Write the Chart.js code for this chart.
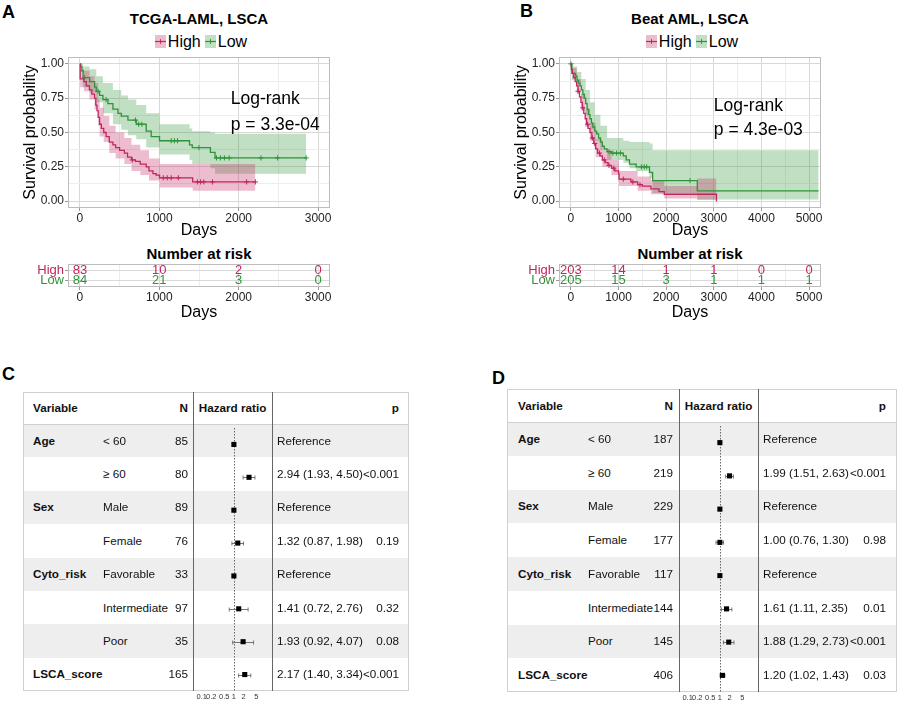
<!DOCTYPE html>
<html>
<head>
<meta charset="utf-8">
<title>LSCA survival and Cox regression</title>
<script src="https://cdn.jsdelivr.net/npm/chart.js@4.4.1/dist/chart.umd.min.js"></script>
<style>
html,body{margin:0;padding:0;background:#fff;}
#page{position:relative;width:899px;height:701px;overflow:hidden;font-family:"Liberation Sans",Arial,Helvetica,sans-serif;color:#000;}
.t{position:absolute;white-space:nowrap;}
canvas{position:absolute;}
</style>
</head>
<body>
<div id="page">
  <canvas id="kmA" width="340" height="190" style="left:0;top:50px;z-index:1"></canvas>
  <canvas id="riskA" width="340" height="60" style="left:0;top:262px;z-index:1"></canvas>
  <canvas id="kmB" width="340" height="190" style="left:491px;top:50px;z-index:1"></canvas>
  <canvas id="riskB" width="340" height="60" style="left:491px;top:262px;z-index:1"></canvas>
</div>
<script>
// ---------------- DATA ----------------
const groupNames = ['High', 'Low'];

// Panel A: TCGA-LAML (days, survival probability)
const tcgaHighTime = [0,3,50,80,120,150,185,200,215,230,248,270,300,330,370,416,450,500,560,600,650,700,760,835,870,920,960,1003,1420,2210];
const tcgaHighSurv = [1.0,0.89,0.87,0.84,0.81,0.78,0.75,0.70,0.66,0.61,0.56,0.53,0.50,0.47,0.43,0.41,0.39,0.37,0.35,0.32,0.30,0.29,0.27,0.25,0.22,0.20,0.19,0.17,0.14,0.14];
const tcgaHighCensTime = [660,1050,1100,1150,1240,1480,1520,1560,1670,2100,2210];
const tcgaHighCensSurv = [0.30,0.17,0.17,0.17,0.17,0.14,0.14,0.14,0.14,0.14,0.14];
const tcgaHighCiTime = [0,3,50,120,185,230,248,300,370,450,560,650,760,870,1003,1420,2210];
const tcgaHighCiUpper = [1.0,0.96,0.95,0.91,0.86,0.74,0.68,0.62,0.55,0.50,0.46,0.41,0.37,0.31,0.27,0.27,0.27];
const tcgaHighCiLower = [1.0,0.83,0.80,0.74,0.67,0.55,0.47,0.43,0.35,0.31,0.27,0.22,0.19,0.15,0.10,0.075,0.075];

const tcgaLowTime = [0,10,25,40,122,185,206,248,290,353,416,479,521,605,710,835,898,1003,1381,1415,1644,1702,2850];
const tcgaLowSurv = [1.0,0.98,0.95,0.90,0.87,0.83,0.80,0.77,0.74,0.71,0.67,0.64,0.62,0.59,0.56,0.51,0.47,0.44,0.41,0.39,0.355,0.315,0.315];
const tcgaLowCensTime = [60,230,330,700,740,780,1150,1190,1230,1500,1720,1770,1820,1880,2280,2490,2850];
const tcgaLowCensSurv = [0.90,0.80,0.74,0.59,0.56,0.56,0.44,0.44,0.44,0.39,0.315,0.315,0.315,0.315,0.315,0.315,0.315];
const tcgaLowCiTime = [0,10,40,122,206,290,416,521,605,710,835,1003,1381,1415,1644,1702,2850];
const tcgaLowCiUpper = [1.0,1.0,0.98,0.96,0.91,0.86,0.81,0.77,0.74,0.70,0.64,0.56,0.53,0.51,0.50,0.49,0.49];
const tcgaLowCiLower = [1.0,0.94,0.83,0.79,0.72,0.64,0.56,0.52,0.48,0.45,0.39,0.34,0.30,0.27,0.24,0.20,0.20];

const tcgaRiskDays = [0,1000,2000,3000];
const tcgaRiskHigh = [83,10,2,0];
const tcgaRiskLow = [84,21,3,0];
const tcgaGridDays = [0,500,1000,1500,2000,2500,3000];

// Panel B: Beat AML
const beatHighTime = [0,10,30,60,90,120,150,180,210,240,270,300,330,360,400,440,480,520,560,610,660,720,780,850,920,1000,1010,1260,1400,1500,1680,1850,1960,3056];
const beatHighSurv = [1.0,0.96,0.93,0.90,0.87,0.84,0.80,0.76,0.72,0.68,0.64,0.60,0.56,0.53,0.50,0.46,0.42,0.38,0.35,0.33,0.30,0.28,0.26,0.24,0.22,0.20,0.16,0.14,0.12,0.11,0.09,0.07,0.05,0.0];
const beatHighCensTime = [150,250,350,450,500,600,700,800,900,1100,1300,1450];
const beatHighCensSurv = [0.80,0.68,0.56,0.46,0.42,0.35,0.30,0.26,0.24,0.16,0.14,0.12];
const beatHighCiTime = [0,30,120,210,300,400,520,660,850,1000,1010,1400,1680,1960,2650,3056];
const beatHighCiUpper = [1.0,0.97,0.89,0.78,0.67,0.57,0.45,0.37,0.30,0.27,0.22,0.18,0.15,0.11,0.165,0.165];
const beatHighCiLower = [1.0,0.89,0.79,0.66,0.54,0.44,0.32,0.25,0.19,0.15,0.11,0.075,0.05,0.02,0.01,0.01];

const beatLowTime = [0,20,100,130,160,190,220,250,280,310,340,370,400,430,460,500,540,580,620,660,700,760,850,1100,1160,1230,1370,1650,1715,2653,5200];
const beatLowSurv = [1.0,0.93,0.91,0.88,0.86,0.84,0.81,0.78,0.75,0.71,0.67,0.63,0.60,0.57,0.54,0.51,0.49,0.46,0.43,0.40,0.38,0.36,0.35,0.33,0.30,0.27,0.25,0.21,0.15,0.075,0.075];
const beatLowCensTime = [0,800,880,960,1040,1480,1540,1590,2500];
const beatLowCensSurv = [1.0,0.36,0.35,0.35,0.35,0.25,0.25,0.25,0.15];
const beatLowCiTime = [0,20,130,220,310,400,500,620,760,1100,1230,1370,1650,1715,2653,5200];
const beatLowCiUpper = [1.0,0.98,0.94,0.89,0.81,0.72,0.63,0.55,0.46,0.44,0.43,0.43,0.42,0.37,0.37,0.37];
const beatLowCiLower = [1.0,0.88,0.84,0.75,0.63,0.52,0.44,0.37,0.30,0.28,0.24,0.22,0.17,0.06,0.012,0.012];

const beatRiskDays = [0,1000,2000,3000,4000,5000];
const beatRiskHigh = [203,14,1,1,0,0];
const beatRiskLow = [205,15,3,1,1,1];
const beatGridDays = [0,500,1000,1500,2000,2500,3000,3500,4000,4500,5000];

const survGrid = [0,0.125,0.25,0.375,0.5,0.625,0.75,0.875,1];

// Panels C and D: Cox regression
const forestVariables = ['Age','','Sex','','Cyto_risk','','','LSCA_score'];
const forestSubgroups = ['< 60','\u2265 60','Male','Female','Favorable','Intermediate','Poor',''];
const forestTicks = [0.1,0.2,0.5,1,2,5];

const tcgaN = [85,80,89,76,33,97,35,165];
const tcgaHR = [1,2.94,1,1.32,1,1.41,1.93,2.17];
const tcgaHRLow = [null,1.93,null,0.87,null,0.72,0.92,1.40];
const tcgaHRHigh = [null,4.50,null,1.98,null,2.76,4.07,3.34];
const tcgaP = ['','<0.001','','0.19','','0.32','0.08','<0.001'];

const beatN = [187,219,229,177,117,144,145,406];
const beatHR = [1,1.99,1,1.00,1,1.61,1.88,1.20];
const beatHRLow = [null,1.51,null,0.76,null,1.11,1.29,1.02];
const beatHRHigh = [null,2.63,null,1.30,null,2.35,2.73,1.43];
const beatP = ['','<0.001','','0.98','','0.01','<0.001','0.03'];

// ---------------- STYLE ----------------
const RED = '#C2255F', GREEN = '#2F9438';
const RED_BAND = 'rgba(194,37,95,0.30)', GREEN_BAND = 'rgba(47,148,56,0.30)';
const MAJOR = '#d9d9d9', MINOR = '#ededed', TICKC = '#9a9a9a', PANEL = '#bdbdbd';
const FONT = '"Liberation Sans", Arial, Helvetica, sans-serif';
const TABLE_FONT = 11.7;
Chart.defaults.font.family = FONT;
const page = document.getElementById('page');

function placeText(text, x, y, o = {}) {
  const d = document.createElement('div');
  d.className = 't';
  d.textContent = text;
  const size = o.size || 12, h = o.h || Math.round(size * 1.4);
  d.style.fontSize = size + 'px';
  d.style.height = h + 'px';
  d.style.lineHeight = h + 'px';
  d.style.top = (y - h / 2) + 'px';
  if (o.bold) d.style.fontWeight = 'bold';
  if (o.color) d.style.color = o.color;
  if (o.align === 'center') { d.style.left = (x - 200) + 'px'; d.style.width = '400px'; d.style.textAlign = 'center'; }
  else if (o.align === 'right') { d.style.left = (x - 300) + 'px'; d.style.width = '300px'; d.style.textAlign = 'right'; }
  else d.style.left = x + 'px';
  if (o.z != null) d.style.zIndex = o.z;
  (o.parent || page).appendChild(d);
  return d;
}

function legend(cx, cy, names, colors, bands) {
  const d = document.createElement('div');
  d.className = 't';
  d.style.cssText += `left:${cx-150}px;width:300px;top:${cy-10}px;height:20px;display:flex;justify-content:center;align-items:center;font-size:16px;`;
  names.forEach((n, i) => {
    const sw = `<svg width="11" height="13" style="margin-right:2px;${i ? 'margin-left:4px;' : ''}"><rect x="0" y="0" width="11" height="13" fill="${bands[i]}"/><line x1="0" y1="6.5" x2="11" y2="6.5" stroke="${colors[i]}" stroke-width="1.2"/><line x1="5.5" y1="4.2" x2="5.5" y2="8.8" stroke="${colors[i]}" stroke-width="1"/></svg>`;
    d.insertAdjacentHTML('beforeend', sw + `<span>${n}</span>`);
  });
  page.appendChild(d);
}

const xy = (ts, vs) => ts.map((t, i) => ({x: t, y: vs[i]}));

const panelPlugin = {
  id: 'panelExtras',
  afterDraw(chart, args, opts) {
    const {ctx, chartArea: a, scales: {x, y}} = chart;
    ctx.save();
    if (opts.notes) {
      ctx.fillStyle = '#000';
      ctx.font = '17.5px ' + FONT;
      ctx.textBaseline = 'middle';
      ctx.textAlign = 'left';
      opts.notes.forEach(n => ctx.fillText(n.text, x.getPixelForValue(n.x), y.getPixelForValue(n.y)));
    }
    if (opts.risk) {
      ctx.font = '13px ' + FONT;
      ctx.textAlign = 'center';
      ctx.textBaseline = 'middle';
      opts.risk.forEach((vals, r) => {
        ctx.fillStyle = opts.colors[r];
        chart.getDatasetMeta(r).data.forEach((el, i) => ctx.fillText(String(vals[i]), el.x, el.y));
      });
    }
    ctx.strokeStyle = PANEL;
    ctx.lineWidth = 1;
    ctx.strokeRect(Math.round(a.left) + 0.5, Math.round(a.top) + 0.5, Math.round(a.right - a.left) - 1, Math.round(a.bottom - a.top) - 1);
    ctx.restore();
  }
};

function xDays(min, max, gridDays, h) {
  const major = c => c.tick && c.tick.value % 1000 === 0;
  return {
    type: 'linear', min, max, bounds: 'data',
    afterBuildTicks: sc => { sc.ticks = gridDays.map(v => ({value: v})); },
    afterFit: sc => { sc.height = h; sc.paddingLeft = 0; sc.paddingRight = 0; },
    ticks: {autoSkip: false, maxRotation: 0, padding: 0, font: {size: 12}, color: '#222',
            callback: v => (v % 1000 === 0 ? String(v) : '')},
    grid: {color: c => major(c) ? MAJOR : MINOR, tickColor: c => major(c) ? TICKC : 'rgba(0,0,0,0)', tickLength: 3, lineWidth: 1},
    border: {display: false},
    title: {display: true, text: 'Days', font: {size: 16}, color: '#000', padding: 0}
  };
}

function kmChart(id, s, xMin, xMax, gridDays, notes) {
  const line = (data, color) => ({data, stepped: true, borderColor: color, borderWidth: 1.3, pointRadius: 0, fill: false});
  const cens = (data, color) => ({data, showLine: false, pointStyle: 'cross', pointRadius: 2.6, borderColor: color, borderWidth: 1, backgroundColor: color});
  const band = (data, color, fill) => ({data, stepped: true, borderColor: 'rgba(0,0,0,0)', borderWidth: 0, pointRadius: 0, fill, backgroundColor: color});
  const yMajor = c => c.tick && Math.abs(c.tick.value * 4 - Math.round(c.tick.value * 4)) < 1e-6;
  return new Chart(document.getElementById(id), {
    type: 'line',
    data: {datasets: [
      {label: 'High', ...line(xy(s.hT, s.hS), RED)},
      {label: 'Low', ...line(xy(s.lT, s.lS), GREEN)},
      {label: 'High censored', ...cens(xy(s.hCT, s.hCS), RED)},
      {label: 'Low censored', ...cens(xy(s.lCT, s.lCS), GREEN)},
      {label: 'High 95% CI upper', ...band(xy(s.hCiT, s.hCiU), RED_BAND, '+1')},
      {label: 'High 95% CI lower', ...band(xy(s.hCiT, s.hCiL), RED_BAND, false)},
      {label: 'Low 95% CI upper', ...band(xy(s.lCiT, s.lCiU), GREEN_BAND, '+1')},
      {label: 'Low 95% CI lower', ...band(xy(s.lCiT, s.lCiL), GREEN_BAND, false)}
    ]},
    options: {
      responsive: false, animation: false, events: [],
      layout: {padding: {top: 7, right: 10, left: 0, bottom: 0}},
      plugins: {legend: {display: false}, tooltip: {enabled: false}, panelExtras: {notes}},
      scales: {
        x: xDays(xMin, xMax, gridDays, 32),
        y: {
          type: 'linear', min: -0.05, max: 1.05, bounds: 'data',
          afterBuildTicks: sc => { sc.ticks = survGrid.map(v => ({value: v})); },
          afterFit: sc => { sc.width = 68; sc.paddingTop = 0; sc.paddingBottom = 0; },
          ticks: {autoSkip: false, padding: 1, font: {size: 12}, color: '#222',
                  callback: v => (Math.abs(v * 4 - Math.round(v * 4)) < 1e-6 ? v.toFixed(2) : '')},
          grid: {color: c => yMajor(c) ? MAJOR : MINOR, tickColor: c => yMajor(c) ? TICKC : 'rgba(0,0,0,0)', tickLength: 3, lineWidth: 1},
          border: {display: false},
          title: {display: true, text: 'Survival probability', font: {size: 16}, color: '#000', padding: {top: 21, bottom: 0}}
        }
      }
    },
    plugins: [panelPlugin]
  });
}

function riskChart(id, days, high, low, xMin, xMax, gridDays) {
  return new Chart(document.getElementById(id), {
    type: 'scatter',
    data: {datasets: [
      {label: 'High', data: days.map(d => ({x: d, y: 0})), pointRadius: 0},
      {label: 'Low', data: days.map(d => ({x: d, y: 1})), pointRadius: 0}
    ]},
    options: {
      responsive: false, animation: false, events: [],
      layout: {padding: {top: 2, right: 10, left: 0, bottom: 0}},
      plugins: {legend: {display: false}, tooltip: {enabled: false}, panelExtras: {risk: [high, low], colors: [RED, GREEN]}},
      scales: {
        x: xDays(xMin, xMax, gridDays, 35),
        y: {
          type: 'linear', min: -0.6, max: 1.6, reverse: true, bounds: 'data',
          afterBuildTicks: sc => { sc.ticks = [{value: 0}, {value: 1}]; },
          afterFit: sc => { sc.width = 68; sc.paddingTop = 0; sc.paddingBottom = 0; },
          ticks: {autoSkip: false, padding: 1, font: {size: 13}, color: c => [RED, GREEN][c.index],
                  callback: v => groupNames[v]},
          grid: {color: MAJOR, tickColor: TICKC, tickLength: 3, lineWidth: 1},
          border: {display: false}
        }
      }
    },
    plugins: [panelPlugin]
  });
}

// ---------------- PANEL A / B ----------------
placeText('A', 2, 12, {size: 18, bold: true});
placeText('TCGA-LAML, LSCA', 199, 18.5, {size: 15, bold: true, align: 'center'});
legend(201, 41.5, groupNames, [RED, GREEN], [RED_BAND, GREEN_BAND]);
placeText('Number at risk', 199, 253, {size: 15, bold: true, align: 'center'});

placeText('B', 520, 11.5, {size: 18, bold: true});
placeText('Beat AML, LSCA', 690, 18.5, {size: 15, bold: true, align: 'center'});
legend(692, 41.5, groupNames, [RED, GREEN], [RED_BAND, GREEN_BAND]);
placeText('Number at risk', 690, 253, {size: 15, bold: true, align: 'center'});

kmChart('kmA', {
  hT: tcgaHighTime, hS: tcgaHighSurv, lT: tcgaLowTime, lS: tcgaLowSurv,
  hCT: tcgaHighCensTime, hCS: tcgaHighCensSurv, lCT: tcgaLowCensTime, lCS: tcgaLowCensSurv,
  hCiT: tcgaHighCiTime, hCiU: tcgaHighCiUpper, hCiL: tcgaHighCiLower,
  lCiT: tcgaLowCiTime, lCiU: tcgaLowCiUpper, lCiL: tcgaLowCiLower
}, -150, 3150, tcgaGridDays, [{text: 'Log-rank', x: 1900, y: 0.74}, {text: 'p = 3.3e-04', x: 1900, y: 0.55}]);

kmChart('kmB', {
  hT: beatHighTime, hS: beatHighSurv, lT: beatLowTime, lS: beatLowSurv,
  hCT: beatHighCensTime, hCS: beatHighCensSurv, lCT: beatLowCensTime, lCS: beatLowCensSurv,
  hCiT: beatHighCiTime, hCiU: beatHighCiUpper, hCiL: beatHighCiLower,
  lCiT: beatLowCiTime, lCiU: beatLowCiUpper, lCiL: beatLowCiLower
}, -250, 5250, beatGridDays, [{text: 'Log-rank', x: 3000, y: 0.69}, {text: 'p = 4.3e-03', x: 3000, y: 0.52}]);

riskChart('riskA', tcgaRiskDays, tcgaRiskHigh, tcgaRiskLow, -150, 3150, tcgaGridDays);
riskChart('riskB', beatRiskDays, beatRiskHigh, beatRiskLow, -250, 5250, beatGridDays);

// ---------------- PANEL C / D ----------------
const forestPlugin = {
  id: 'forestCI',
  beforeDatasetsDraw(chart, args, opts) {
    const {ctx, chartArea: a, scales: {x, y}} = chart;
    ctx.save();
    ctx.strokeStyle = '#555';
    ctx.lineWidth = 0.9;
    ctx.setLineDash([1.5, 1.5]);
    const x1 = Math.round(x.getPixelForValue(1)) + 0.5;
    ctx.beginPath(); ctx.moveTo(x1, a.top); ctx.lineTo(x1, a.bottom); ctx.stroke();
    ctx.setLineDash([]);
    ctx.strokeStyle = '#666';
    ctx.lineWidth = 0.9;
    opts.low.forEach((lo, i) => {
      if (lo == null) return;
      const hi = opts.high[i];
      const py = Math.round(y.getPixelForValue(i)) + 0.5;
      const pa = x.getPixelForValue(lo), pb = x.getPixelForValue(hi);
      ctx.beginPath();
      ctx.moveTo(pa, py); ctx.lineTo(pb, py);
      ctx.moveTo(pa, py - 2); ctx.lineTo(pa, py + 2);
      ctx.moveTo(pb, py - 2); ctx.lineTo(pb, py + 2);
      ctx.stroke();
    });
    ctx.restore();
  }
};

function forestPanel(g, letter, ns, hr, lo, hi, ps) {
  const rowH = (g.height - g.headH) / forestVariables.length;
  const tab = document.createElement('div');
  tab.style.cssText = `position:absolute;left:${g.left}px;top:${g.top}px;width:${g.width}px;height:${g.height}px;box-sizing:border-box;border:1px solid #d0d0d0;background:#fff;z-index:0;`;
  page.appendChild(tab);
  const inner = (x, y, w, h, bg) => {
    const d = document.createElement('div');
    d.style.cssText = `position:absolute;left:${g.left + x}px;top:${g.top + y}px;width:${w}px;height:${h}px;background:${bg};`;
    return d;
  };
  forestVariables.forEach((v, i) => {
    if (i % 2 === 0) { const s = inner(1, g.headH + i * rowH, g.width - 2, rowH, '#eeeeee'); s.style.zIndex = 0; page.appendChild(s); }
  });
  const hl = inner(0, g.headH, g.width, 1, '#cfcfcf'); hl.style.zIndex = 0; page.appendChild(hl);

  const T = (s, x, y, o = {}) => placeText(s, g.left + x, g.top + y, Object.assign({size: TABLE_FONT, h: 16, color: '#111', z: 2}, o));
  const hy = g.headH / 2;
  T('Variable', g.xVar, hy, {bold: true});
  T('N', g.xN, hy, {bold: true, align: 'right'});
  T('Hazard ratio', (g.col1 + g.col2) / 2, hy, {bold: true, align: 'center'});
  T('p', g.xP, hy, {bold: true, align: 'right'});
  forestVariables.forEach((v, i) => {
    const cy = g.headH + (i + 0.5) * rowH;
    if (v) T(v, g.xVar, cy, {bold: true});
    if (forestSubgroups[i]) T(forestSubgroups[i], g.xSub, cy);
    T(String(ns[i]), g.xN, cy, {align: 'right'});
    const est = lo[i] == null ? 'Reference' : `${hr[i].toFixed(2)} (${lo[i].toFixed(2)}, ${hi[i].toFixed(2)})`;
    T(est, g.xEst, cy);
    if (ps[i]) T(ps[i], g.xP, cy, {align: 'right'});
  });

  const cv = document.createElement('canvas');
  const cw = g.col2 - g.col1, ch = Math.round(g.height - g.headH) + 10;
  cv.width = cw; cv.height = ch;
  cv.style.left = (g.left + g.col1) + 'px';
  cv.style.top = (g.top + g.headH) + 'px';
  cv.style.zIndex = 1;
  page.appendChild(cv);

  [g.col1, g.col2].forEach(cx => { const l = inner(cx, 0, 1, g.height, '#666'); l.style.zIndex = 3; page.appendChild(l); });
  placeText(letter, g.letterX, g.letterY, {size: 18, bold: true});

  new Chart(cv, {
    type: 'scatter',
    data: {datasets: [{label: 'Hazard ratio', data: hr.map((v, i) => ({x: v, y: i})),
      pointStyle: 'rect', pointRadius: 3.6, backgroundColor: '#000', borderColor: '#000', borderWidth: 0}]},
    options: {
      responsive: false, animation: false, events: [],
      layout: {padding: 0},
      plugins: {legend: {display: false}, tooltip: {enabled: false}, forestCI: {low: lo, high: hi}},
      scales: {
        x: {type: 'logarithmic', min: 0.072, max: 11.4, bounds: 'data',
            afterBuildTicks: sc => { sc.ticks = forestTicks.map(v => ({value: v})); },
            afterFit: sc => { sc.height = 10; sc.paddingLeft = 0; sc.paddingRight = 0; },
            ticks: {autoSkip: false, maxRotation: 0, padding: 1, font: {size: 7.5}, color: '#333', callback: v => String(v)},
            grid: {display: false, drawTicks: false}, border: {display: false}},
        y: {type: 'linear', min: -0.5, max: forestVariables.length - 0.5, reverse: true, display: false}
      }
    },
    plugins: [forestPlugin]
  });
}

forestPanel({left: 23, top: 392, width: 386, height: 299, headH: 32, col1: 170, col2: 249,
             xVar: 10, xSub: 80, xN: 165, xEst: 254, xP: 376, letterX: 2, letterY: 374},
            'C', tcgaN, tcgaHR, tcgaHRLow, tcgaHRHigh, tcgaP);
forestPanel({left: 507, top: 389, width: 390, height: 303, headH: 33, col1: 172, col2: 251,
             xVar: 11, xSub: 81, xN: 166, xEst: 256, xP: 379, letterX: 492, letterY: 378.5},
            'D', beatN, beatHR, beatHRLow, beatHRHigh, beatP);
</script>
</body>
</html>
